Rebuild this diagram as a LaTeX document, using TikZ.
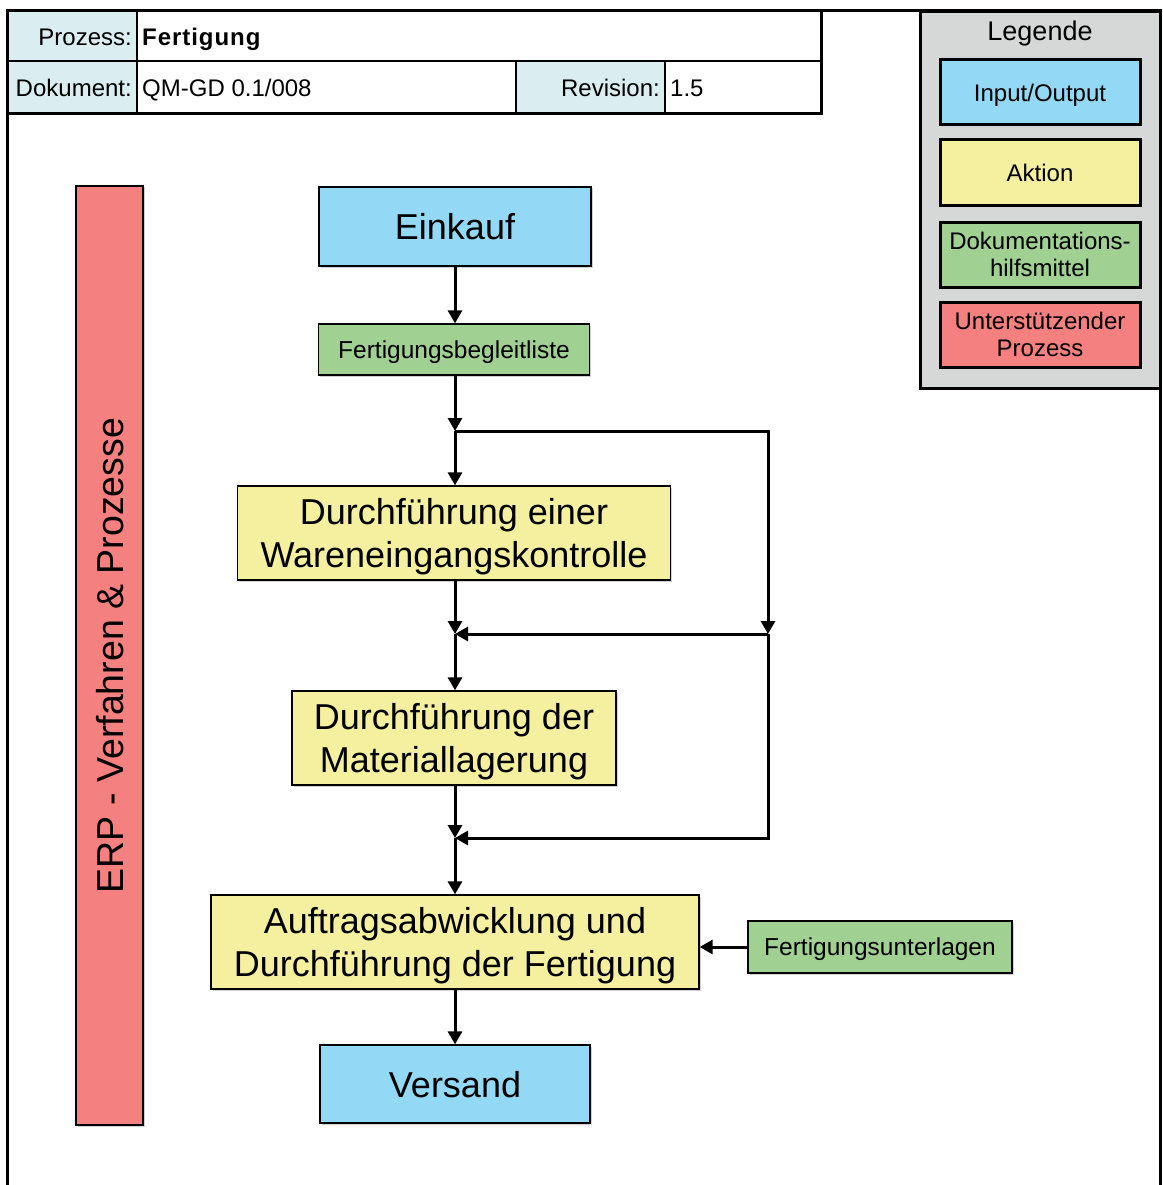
\documentclass[tikz,border=0pt]{standalone}
\usepackage{fontspec}
\setmainfont{Liberation Sans}
\usetikzlibrary{arrows.meta,shadows}

\definecolor{ioblue}{RGB}{147,217,245}
\definecolor{actyellow}{RGB}{244,240,160}
\definecolor{docgreen}{RGB}{160,208,146}
\definecolor{supred}{RGB}{244,128,128}
\definecolor{legendgray}{RGB}{214,216,216}
\definecolor{headcyan}{RGB}{218,238,241}

\tikzset{
  shapebox/.style={draw=black, line width=1.3pt, align=center, inner sep=0pt, text depth=0pt,
    drop shadow={shadow xshift=1.5pt, shadow yshift=-1.5pt, opacity=0.35, fill=gray}},
  iobox/.style={shapebox, fill=ioblue, font=\fontsize{36}{43}\selectfont},
  actbox/.style={shapebox, fill=actyellow, font=\fontsize{36}{43}\selectfont},
  docbox/.style={shapebox, fill=docgreen, font=\fontsize{24.5}{29}\selectfont},
  supbox/.style={shapebox, fill=supred, font=\fontsize{37.5}{44}\selectfont},
  legbox/.style={draw=black, line width=3pt, align=center, inner sep=0pt, text depth=0pt,
    minimum width=200pt, minimum height=65pt, font=\fontsize{24}{27}\selectfont},
  headtext/.style={inner sep=0pt, font=\fontsize{24}{28}\selectfont},
  arrowpath/.style={draw=black, line width=3pt, -{Triangle[length=13pt,width=14pt]}}
}

\begin{document}
\begin{tikzpicture}[x=1pt, y=-1pt]
\useasboundingbox (0,0) rectangle (1162,1185);
\fill[white] (0,0) rectangle (1162,1185);

% outer frame
\draw[line width=3pt] (7,1195) -- (7,11) -- (1160,11) -- (1160,1195);

% header table
\fill[headcyan] (7,11) rectangle (137,114);
\fill[headcyan] (516,61) rectangle (665,114);
\draw[line width=1.3pt] (7,61) -- (821,61);
\draw[line width=1.3pt] (137,11) -- (137,114);
\draw[line width=1.3pt] (516,61) -- (516,114);
\draw[line width=1.3pt] (665,61) -- (665,114);
\draw[line width=3pt] (7,11) rectangle (821,114);
\node[headtext, anchor=base east] (hproz) at (132,46) {Prozess:};
\node[headtext, anchor=base west] (hprozv) at (142,46) {\addfontfeatures{LetterSpace=4}\bfseries Fertigung};
\node[headtext, anchor=base east] (hdok) at (132,97) {Dokument:};
\node[headtext, anchor=base west] (hdokv) at (142,97) {QM-GD 0.1/008};
\node[headtext, anchor=base east] (hrev) at (660,97) {Revision:};
\node[headtext, anchor=base west] (hrevv) at (670,97) {1.5};

% legend
\node[draw=black, line width=3pt, fill=legendgray, minimum width=240pt, minimum height=376pt,
      inner sep=0pt] (legend) at (1040,200) {};
\node[inner sep=0pt, font=\fontsize{27}{30}\selectfont] (legtitle) at (1040,34) {Legende};
\node[legbox, fill=ioblue] (legio) at (1040,92.5) {Input/Output};
\node[legbox, fill=actyellow] (legact) at (1040,172.5) {Aktion};
\node[legbox, fill=docgreen] (legdoc) at (1040,254.5) {Dokumentations-\\hilfsmittel};
\node[legbox, fill=supred] (legsup) at (1040,334.5) {Unterstützender\\Prozess};

% supporting process bar
\node[supbox, rotate=90, minimum width=939pt, minimum height=67pt] (erp) at (109.5,655.5)
  {ERP - Verfahren \& Prozesse};

% process steps
\node[iobox, minimum width=272pt, minimum height=79pt] (einkauf) at (455,226.5) {Einkauf};
\node[docbox, minimum width=271pt, minimum height=51pt] (fbl) at (454,349.5) {Fertigungsbegleitliste};
\node[actbox, minimum width=433pt, minimum height=94pt] (wek) at (454,533)
  {Durchführung einer\\Wareneingangskontrolle};
\node[actbox, minimum width=324pt, minimum height=94pt] (mat) at (454,738)
  {Durchführung der\\Materiallagerung};
\node[actbox, minimum width=488pt, minimum height=94pt] (auf) at (455,942)
  {Auftragsabwicklung und\\Durchführung der Fertigung};
\node[iobox, minimum width=270pt, minimum height=78pt] (vers) at (455,1084) {Versand};
\node[docbox, minimum width=264pt, minimum height=52pt] (fu) at (880,947) {Fertigungsunterlagen};

% junction points
\coordinate (j1) at (455,431);
\coordinate (j2) at (455,634);
\coordinate (j3) at (455,838);
\coordinate (r2) at (768,634);

% connectors
\draw[arrowpath] (einkauf.south -| j1) -- (fbl.north -| j1);
\draw[arrowpath] (fbl.south -| j1) -- (j1);
\draw[arrowpath] (j1) -- (wek.north -| j1);
\draw[arrowpath] (j1) -| (r2);
\draw[arrowpath] (wek.south -| j1) -- (j2);
\draw[arrowpath] (r2) -- (j2);
\draw[arrowpath] (j2) -- (mat.north -| j2);
\draw[arrowpath] (mat.south -| j2) -- (j3);
\draw[arrowpath] (r2) |- (j3);
\draw[arrowpath] (j3) -- (auf.north -| j3);
\draw[arrowpath] (auf.south -| j3) -- (vers.north -| j3);
\draw[arrowpath] (fu.west) -- (auf.east |- fu.west);
\end{tikzpicture}
\end{document}
